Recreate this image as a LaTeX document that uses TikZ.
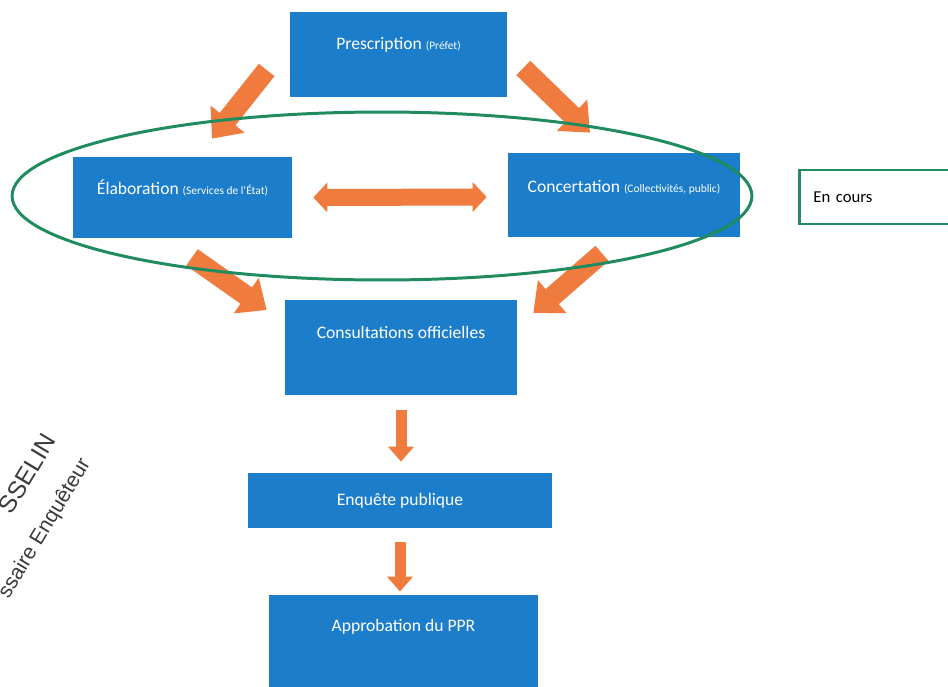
\documentclass[tikz,border=0pt]{standalone}
\usepackage{fontspec}
\setmainfont{Carlito}
\newfontfamily\stampfont{Liberation Sans}
\usetikzlibrary{arrows.meta,positioning,shapes.geometric,calc}
\definecolor{Box}{HTML}{1C7DCA}
\definecolor{Arrow}{HTML}{F07B3F}
\definecolor{Ring}{HTML}{1F8B5E}
\definecolor{Stamp}{HTML}{3A3A3A}

\begin{document}
\begin{tikzpicture}[x=0.02cm,y=-0.02cm,
  stage/.style={fill=Box,inner sep=0pt},
  txt/.style={white,font=\fontsize{10}{12}\selectfont},
  bigarrow/.style={Arrow,line width=0.4cm,-{Triangle[width=0.84cm,length=0.5cm]}},
  twoarrow/.style={Arrow,line width=0.34cm,{Triangle[width=0.58cm,length=0.28cm]}-{Triangle[width=0.58cm,length=0.28cm]}},
  downarrow/.style={Arrow,line width=0.22cm,-{Triangle[width=0.5cm,length=0.3cm]}},
  stamp/.style={Stamp,inner sep=0pt,anchor=base east,rotate=59}]
  \useasboundingbox (0,0) rectangle (948,687);
  \newcommand{\petit}[1]{{\fontsize{6.5}{7}\selectfont(#1)}}

  \node[stage,minimum width=4.34cm,minimum height=1.70cm,
    label={[txt,yshift=0.19cm]center:Prescription \petit{Préfet}}] (presc) at (398.5,54.5) {};
  \node[stage,minimum width=4.38cm,minimum height=1.62cm,
    label={[txt,yshift=0.19cm]center:{Élaboration \petit{Services de l'État}}}] (elab) at (182.5,197.5) {};
  \node[stage,minimum width=4.64cm,minimum height=1.68cm,
    label={[txt,yshift=0.16cm]center:{Concertation \petit{Collectivités, public}}}] (conc) at (624,195) {};
  \node[stage,minimum width=4.64cm,minimum height=1.90cm,
    label={[txt,yshift=0.31cm]center:Consultations officielles}] (consul) at (401,347.5) {};
  \node[stage,minimum width=6.08cm,minimum height=1.10cm,
    label={[txt]center:Enquête publique}] (enq) at (400,500.5) {};
  \node[stage,minimum width=5.38cm,minimum height=1.84cm,
    label={[txt,yshift=0.28cm]center:Approbation du PPR}] (appr) at (403.5,641) {};

  \node[draw=Ring,line width=1.6pt,fill=white,anchor=west,minimum height=1.08cm,
    text width=2.7cm,inner xsep=0.28cm,align=left,font=\fontsize{9.5}{11}\selectfont] (cours) at (798,197) {En cours};

  \draw[bigarrow] ($(presc.west)+(-23,15.5)$) -- ($(elab.north)+(29.5,-18)$);
  \draw[bigarrow] ($(presc.east)+(16,13.5)$) -- ($(conc.north)+(-34,-20)$);
  \draw[twoarrow] ($(elab.east)+(21,0)$) -- ($(conc.west)+(-21,2)$);
  \draw[bigarrow] ($(elab.south)+(9.5,19)$) -- ($(consul.west)+(-18,-37.5)$);
  \draw[bigarrow] ($(conc.south)+(-22,16)$) -- ($(consul.east)+(16,-34.5)$);
  \draw[downarrow,shorten <=0.3cm,shorten >=0.22cm] (consul.south) -- (consul.south |- enq.north);
  \draw[downarrow,shorten <=0.28cm,shorten >=0.06cm] (enq.south) -- (enq.south |- appr.north);

  \node[draw=Ring,line width=1.7pt,ellipse,minimum width=14.8cm,minimum height=3.36cm] (zone) at (382,196) {};

  \node[stamp,font=\stampfont\fontsize{14}{16}\selectfont] (nom) at (57,440) {SSELIN};
  \node[stamp,font=\stampfont\fontsize{12}{14}\selectfont] (titre) at (91,463) {ssaire Enquêteur};
\end{tikzpicture}
\end{document}
